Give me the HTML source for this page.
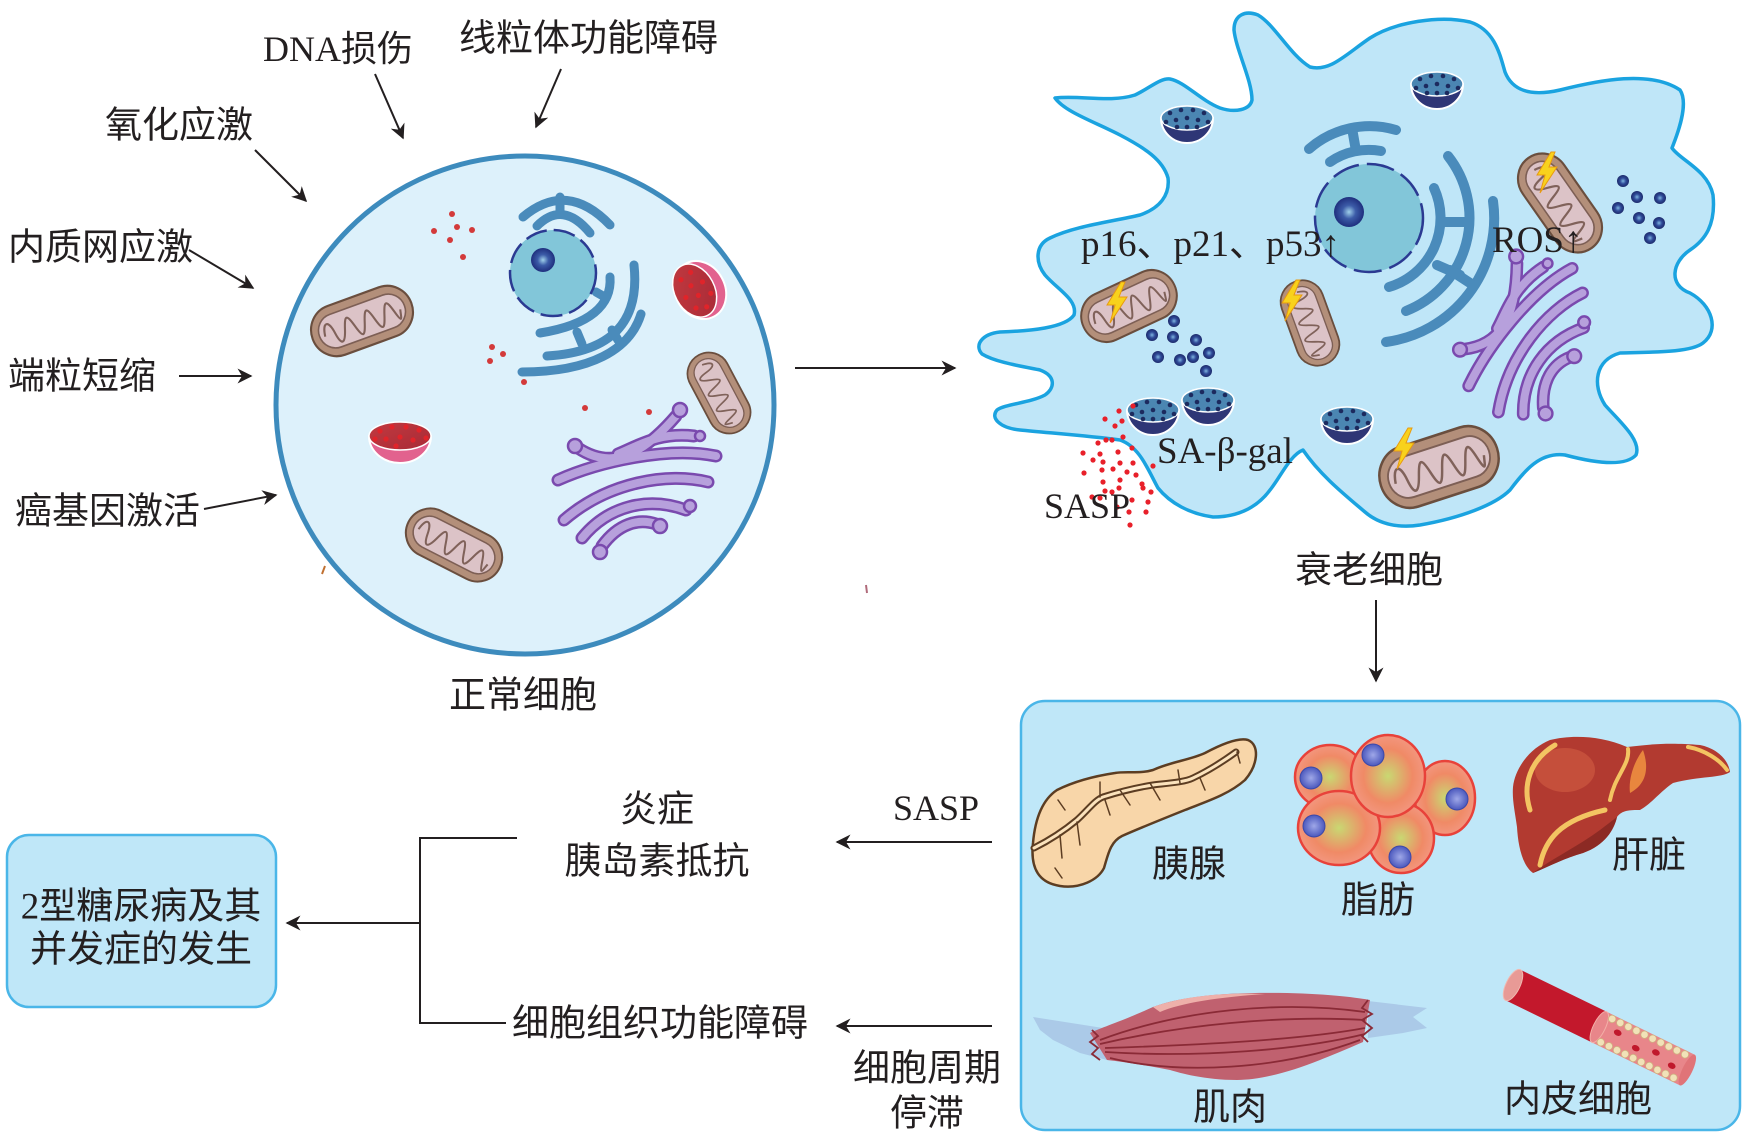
<!DOCTYPE html>
<html><head><meta charset="utf-8"><style>
html,body{margin:0;padding:0;background:#fff;}
svg{display:block;}
.cn{font-family:"Liberation Serif","Noto Sans CJK SC",sans-serif;font-size:37px;fill:#231f20;}
.lt{font-family:"Liberation Serif","Noto Sans CJK SC",serif;font-size:36px;fill:#231f20;}
</style></head><body>
<svg width="1751" height="1141" viewBox="0 0 1751 1141" xmlns="http://www.w3.org/2000/svg">
<defs>
<marker id="ah" viewBox="0 0 10 10" refX="9" refY="5" markerWidth="20" markerHeight="15" markerUnits="userSpaceOnUse" orient="auto">
<path d="M0,0 L10,5 L0,10 L3,5 Z" fill="#231f20"/></marker>
<radialGradient id="nuc" cx="0.5" cy="0.5" r="0.5"><stop offset="0" stop-color="#9fd0ea"/><stop offset="0.45" stop-color="#3c5ca8"/><stop offset="1" stop-color="#1f2f7e"/></radialGradient>
<radialGradient id="bd" cx="0.5" cy="0.5" r="0.5"><stop offset="0" stop-color="#7fb6e0"/><stop offset="0.5" stop-color="#2f4a98"/><stop offset="1" stop-color="#1d2b6c"/></radialGradient>
<radialGradient id="fat" cx="0.5" cy="0.5" r="0.55"><stop offset="0" stop-color="#c9d872"/><stop offset="0.6" stop-color="#f08a66"/><stop offset="1" stop-color="#f39a86"/></radialGradient>
<radialGradient id="fn" cx="0.5" cy="0.5" r="0.5"><stop offset="0" stop-color="#9fa8e8"/><stop offset="1" stop-color="#4b58bd"/></radialGradient>
<linearGradient id="rf" x1="0" y1="0" x2="1" y2="1"><stop offset="0" stop-color="#c23a40"/><stop offset="1" stop-color="#a82a36"/></linearGradient>
<g id="mito">
<rect x="-50" y="-24" width="100" height="48" rx="24" fill="#b38f7a" stroke="#6a4e3e" stroke-width="2"/>
<rect x="-43" y="-16" width="86" height="32" rx="16" fill="#dcc3c7" stroke="#7d5f55" stroke-width="1.5"/>
<path d="M-38,2 C-36,-12 -30,-12 -28,2 S-22,14 -18,2 S-12,-12 -8,2 S-2,14 2,2 S8,-12 12,2 S18,14 22,2 S28,-12 32,2 S36,10 38,2" fill="none" stroke="#80625a" stroke-width="2"/>
</g>
<g id="bolt"><path d="M5,-20 L-9,3 L-1,3 L-6,21 L11,-5 L3,-5 L9,-20 Z" fill="#f8d21c" stroke="#e89a10" stroke-width="1"/></g>
<g id="bowl">
<path d="M-26,0 A26,25 0 0 0 26,0 Z" fill="#2e3676" stroke="#fff" stroke-width="2"/>
<ellipse cx="0" cy="0" rx="26" ry="12" fill="#4b86b2" stroke="#fff" stroke-width="1.5"/>
<g fill="#1c2a5e"><circle cx="-17" cy="-5" r="2.3"/><circle cx="-6" cy="-8" r="2.3"/><circle cx="6" cy="-8" r="2.3"/><circle cx="17" cy="-5" r="2.3"/><circle cx="-11" cy="2" r="2.3"/><circle cx="0" cy="0" r="2.3"/><circle cx="11" cy="2" r="2.3"/><circle cx="-21" cy="4" r="2.3"/><circle cx="21" cy="4" r="2.3"/><circle cx="0" cy="9" r="2.3"/><circle cx="-10" cy="9" r="2.3"/><circle cx="10" cy="9" r="2.3"/></g>
</g>
<g id="rbowl">
<path d="M-31,0 A31,27 0 0 0 31,0 Z" fill="#e2628e" stroke="#fff" stroke-width="2"/>
<ellipse cx="0" cy="0" rx="31" ry="14" fill="url(#rf)" stroke="#fff" stroke-width="1.5"/>
<g fill="#e0242a"><circle cx="-20" cy="-5" r="2.6"/><circle cx="-8" cy="-9" r="2.6"/><circle cx="6" cy="-9" r="2.6"/><circle cx="19" cy="-6" r="2.6"/><circle cx="-14" cy="3" r="2.6"/><circle cx="0" cy="1" r="2.6"/><circle cx="13" cy="4" r="2.6"/><circle cx="-25" cy="3" r="2.6"/><circle cx="26" cy="2" r="2.6"/><circle cx="-4" cy="10" r="2.6"/></g>
</g>
<g id="gb" fill="none" stroke-linecap="round">
<path d="M-80,-2 C-40,-20 30,-36 78,-26"/>
<path d="M-60,-34 C-30,-14 0,-22 38,-66"/>
<path d="M-74,38 C-30,0 30,-10 70,0"/>
<path d="M-56,56 C-30,24 10,14 48,28"/>
<path d="M-36,64 C-20,42 0,36 18,42"/>
<path d="M-20,-28 C0,-36 20,-50 56,-46"/>
</g>
<g id="golgi">
<use href="#gb" stroke="#7a4aae" stroke-width="13"/>
<use href="#gb" stroke="#b7a0dc" stroke-width="8"/>
<g fill="#b7a0dc" stroke="#7a4aae" stroke-width="2.5">
<circle cx="-63" cy="-36" r="7"/><circle cx="42" cy="-72" r="7"/><circle cx="62" cy="-46" r="5"/><circle cx="-38" cy="70" r="7"/><circle cx="22" cy="44" r="7"/><circle cx="52" cy="24" r="6"/>
</g>
</g>
</defs>

<!-- LEFT LABELS -->
<text class="lt" x="263" y="61">DNA损伤</text>
<text class="cn" x="459" y="39" dominant-baseline="central">线粒体功能障碍</text>
<text class="cn" x="105" y="126" dominant-baseline="central">氧化应激</text>
<text class="cn" x="8" y="248" dominant-baseline="central">内质网应激</text>
<text class="cn" x="8" y="377" dominant-baseline="central">端粒短缩</text>
<text class="cn" x="15" y="512" dominant-baseline="central">癌基因激活</text>

<g stroke="#231f20" stroke-width="2" marker-end="url(#ah)">
<line x1="375" y1="74" x2="403" y2="138"/>
<line x1="561" y1="69" x2="536" y2="127"/>
<line x1="255" y1="150" x2="306" y2="201"/>
<line x1="189" y1="250" x2="253" y2="288"/>
<line x1="179" y1="376" x2="251" y2="376"/>
<line x1="204" y1="509" x2="276" y2="495"/>
<line x1="795" y1="368" x2="955" y2="368"/>
<line x1="1376" y1="600" x2="1376" y2="681"/>
<line x1="992" y1="842" x2="837" y2="842"/>
<line x1="992" y1="1026" x2="837" y2="1026"/>
<line x1="420" y1="923" x2="287" y2="923"/>
</g>

<!-- NORMAL CELL -->
<circle cx="525" cy="405" r="249" fill="#ddf1fb" stroke="#3d8bbd" stroke-width="5"/>
<g fill="#d33a3a">
<circle cx="452" cy="214" r="3"/><circle cx="434" cy="231" r="3"/><circle cx="457" cy="227" r="3"/><circle cx="472" cy="230" r="3"/><circle cx="450" cy="240" r="3"/><circle cx="463" cy="257" r="3"/>
<circle cx="492" cy="347" r="3"/><circle cx="503" cy="354" r="3"/><circle cx="490" cy="361" r="3"/><circle cx="524" cy="382" r="3"/><circle cx="585" cy="408" r="3"/><circle cx="649" cy="412" r="3"/>
</g>
<g fill="none" stroke="#4a8bbb" stroke-width="9" stroke-linecap="round">
<path d="M523,217 Q567,180 610,225"/>
<path d="M537,226 Q563,200 590,233"/>
<path d="M560,197 L560,212"/>
<path d="M610,277 C612,305 590,325 540,333"/>
<path d="M634,265 C640,322 612,352 547,356"/>
<path d="M641,314 C630,350 590,372 522,372"/>
<path d="M577,332 L582,344"/><path d="M612,330 L618,340"/><path d="M596,292 L603,296"/>
</g>
<circle cx="553" cy="273" r="43" fill="#82c6d9" stroke="#2b3a92" stroke-width="2.5" stroke-dasharray="22 7"/>
<circle cx="543" cy="260" r="12" fill="url(#nuc)"/>
<use href="#mito" transform="translate(362,321) rotate(-20) scale(1.05,1.08)"/>
<use href="#mito" transform="translate(719,393) rotate(62) scale(0.86,0.88)"/>
<use href="#mito" transform="translate(454,545) rotate(27) scale(1.02,1.02)"/>
<use href="#rbowl" transform="translate(400,436)"/>
<g transform="translate(700,290) rotate(-28)">
<ellipse cx="0" cy="0" rx="25" ry="30" fill="#e2628e" stroke="#fff" stroke-width="2"/>
<ellipse cx="-5" cy="-2" rx="20" ry="28" fill="url(#rf)" stroke="#fff" stroke-width="1.5"/>
<g fill="#e0242a"><circle cx="-12" cy="-18" r="2.6"/><circle cx="0" cy="-20" r="2.6"/><circle cx="-6" cy="-8" r="2.6"/><circle cx="6" cy="-6" r="2.6"/><circle cx="-16" cy="0" r="2.6"/><circle cx="-4" cy="4" r="2.6"/><circle cx="8" cy="8" r="2.6"/><circle cx="-12" cy="14" r="2.6"/><circle cx="-2" cy="18" r="2.6"/></g>
</g>
<use href="#golgi" transform="translate(638,482)"/>
<line x1="322" y1="574" x2="325" y2="566" stroke="#c07030" stroke-width="2"/>
<line x1="866" y1="585" x2="867" y2="593" stroke="#b06a7a" stroke-width="2"/>
<text class="cn" x="523" y="696" text-anchor="middle" dominant-baseline="central">正常细胞</text>

<!-- SENESCENT CELL -->
<path fill="#bfe6f8" stroke="#1aa3e0" stroke-width="3.5" stroke-linejoin="round" d="M1055,98 C1080,95 1110,103 1135,95 C1150,88 1160,78 1170,79 C1185,82 1200,100 1220,108 C1235,113 1250,110 1252,100 C1252,80 1236,50 1234,30 C1234,15 1245,10 1258,15 C1275,25 1290,55 1310,67 C1330,72 1345,55 1370,38 C1395,22 1440,15 1470,22 C1495,30 1500,55 1505,72 C1512,90 1530,97 1560,90 C1600,80 1650,70 1680,90 C1690,105 1675,140 1672,148 C1680,160 1708,170 1713,195 C1716,225 1705,240 1690,250 C1672,262 1668,285 1690,293 C1712,305 1720,330 1703,343 C1690,353 1650,352 1620,353 C1595,360 1592,385 1605,405 C1618,420 1642,440 1636,455 C1625,467 1595,463 1565,455 C1540,452 1525,470 1510,490 C1495,505 1460,518 1420,525 C1400,528 1380,525 1365,512 C1345,495 1320,475 1303,450 C1290,455 1280,478 1270,490 C1255,510 1235,517 1213,517 C1190,514 1170,503 1158,488 C1148,470 1140,447 1120,440 C1090,436 1050,433 1020,430 C1000,428 990,418 997,410 C1005,404 1030,403 1045,395 C1055,388 1056,376 1040,370 C1020,366 995,362 982,354 C974,345 982,334 1000,332 C1030,331 1065,328 1074,315 C1078,300 1058,290 1045,275 C1035,262 1035,245 1050,238 C1075,226 1110,222 1140,215 C1160,208 1170,195 1168,178 C1163,160 1145,148 1120,135 C1095,122 1065,112 1055,98 Z"/>

<g fill="none" stroke="#4a8bbb" stroke-width="10" stroke-linecap="round">
<path d="M1309,149 A92,92 0 0 1 1396,130"/>
<path d="M1330,162 A68,68 0 0 1 1381,151"/>
<path d="M1356,151 L1352,128"/>
<path d="M1434,188 A72,72 0 0 1 1389,287"/>
<path d="M1448,156 A100,100 0 0 1 1406,311"/>
<path d="M1493,201 A125,125 0 0 1 1386,342"/>
<path d="M1441,222 L1468,222"/><path d="M1437,265 L1460,275"/><path d="M1470,283 L1450,270"/>
</g>
<circle cx="1369" cy="218" r="54" fill="#82c6d9" stroke="#2b3a92" stroke-width="2.5" stroke-dasharray="28 8"/>
<circle cx="1349" cy="212" r="15" fill="url(#nuc)"/>

<use href="#bowl" transform="translate(1187,118)"/>
<use href="#bowl" transform="translate(1437,84)"/>
<use href="#bowl" transform="translate(1153,410)"/>
<use href="#bowl" transform="translate(1208,400)"/>
<use href="#bowl" transform="translate(1347,419)"/>

<g fill="url(#bd)">
<circle cx="1174" cy="321" r="6"/><circle cx="1152" cy="335" r="6"/><circle cx="1173" cy="337" r="6"/><circle cx="1196" cy="340" r="6"/><circle cx="1158" cy="357" r="6"/><circle cx="1180" cy="360" r="6"/><circle cx="1193" cy="357" r="6"/><circle cx="1209" cy="353" r="6"/><circle cx="1206" cy="371" r="6"/>
<circle cx="1623" cy="181" r="6"/><circle cx="1637" cy="197" r="6"/><circle cx="1660" cy="198" r="6"/><circle cx="1618" cy="208" r="6"/><circle cx="1639" cy="218" r="6"/><circle cx="1659" cy="223" r="6"/><circle cx="1650" cy="238" r="6"/>
</g>

<use href="#mito" transform="translate(1129,306) rotate(-25) scale(1.0,1.05)"/>
<use href="#mito" transform="translate(1310,323) rotate(70) scale(0.88,0.9)"/>
<use href="#mito" transform="translate(1560,203) rotate(55) scale(1.1,1.05)"/>
<use href="#mito" transform="translate(1439,467) rotate(-18) scale(1.22,1.3)"/>
<use href="#bolt" transform="translate(1116,302)"/>
<use href="#bolt" transform="translate(1291,300)"/>
<use href="#bolt" transform="translate(1546,172)"/>
<use href="#bolt" transform="translate(1403,448)"/>
<use href="#golgi" transform="translate(1530,337) rotate(-40) scale(0.98)"/>

<g fill="#e8202a">
<circle cx="1119" cy="411" r="2.6"/><circle cx="1133" cy="406" r="2.6"/><circle cx="1105" cy="419" r="2.6"/><circle cx="1122" cy="421" r="2.6"/><circle cx="1115" cy="426" r="2.6"/><circle cx="1098" cy="443" r="2.6"/><circle cx="1106" cy="440" r="2.6"/><circle cx="1112" cy="440" r="2.6"/><circle cx="1123" cy="437" r="2.6"/><circle cx="1132" cy="448" r="2.6"/><circle cx="1083" cy="453" r="2.6"/><circle cx="1100" cy="454" r="2.6"/><circle cx="1118" cy="452" r="2.6"/><circle cx="1093" cy="460" r="2.6"/><circle cx="1103" cy="462" r="2.6"/><circle cx="1120" cy="463" r="2.6"/><circle cx="1133" cy="463" r="2.6"/><circle cx="1153" cy="466" r="2.6"/><circle cx="1084" cy="473" r="2.6"/><circle cx="1102" cy="470" r="2.6"/><circle cx="1113" cy="469" r="2.6"/><circle cx="1127" cy="472" r="2.6"/><circle cx="1136" cy="475" r="2.6"/><circle cx="1103" cy="482" r="2.6"/><circle cx="1120" cy="480" r="2.6"/><circle cx="1142" cy="484" r="2.6"/><circle cx="1105" cy="491" r="2.6"/><circle cx="1112" cy="492" r="2.6"/><circle cx="1119" cy="488" r="2.6"/><circle cx="1143" cy="488" r="2.6"/><circle cx="1151" cy="492" r="2.6"/><circle cx="1092" cy="497" r="2.6"/><circle cx="1100" cy="498" r="2.6"/><circle cx="1132" cy="500" r="2.6"/><circle cx="1148" cy="502" r="2.6"/><circle cx="1117" cy="507" r="2.6"/><circle cx="1129" cy="512" r="2.6"/><circle cx="1146" cy="512" r="2.6"/><circle cx="1130" cy="525" r="2.6"/>
</g>

<text class="lt" x="1081" y="256" style="font-size:37px">p16、p21、p53↑</text>
<text class="lt" x="1492" y="252" style="font-size:37px">ROS↑</text>
<text class="lt" x="1157" y="463" style="font-size:37px">SA-β-gal</text>
<text class="lt" x="1044" y="518">SASP</text>
<text class="cn" x="1369" y="571" text-anchor="middle" dominant-baseline="central">衰老细胞</text>

<!-- TISSUE BOX -->
<rect x="1021" y="701" width="719" height="429" rx="24" fill="#bfe7f8" stroke="#4ab6e8" stroke-width="2.5"/>

<!-- pancreas -->
<path d="M1033,843 C1030,870 1040,883 1060,886 C1080,889 1098,880 1104,868 C1108,855 1110,842 1122,836 C1140,828 1165,818 1185,810 C1205,802 1228,795 1245,780 C1258,765 1260,745 1248,740 C1238,737 1220,745 1205,753 C1190,760 1170,762 1153,770 C1140,774 1125,771 1115,773 C1095,776 1075,781 1057,790 C1042,800 1035,820 1033,843 Z" fill="#f8d6a9" stroke="#5c3d22" stroke-width="2.5"/>
<g fill="none" stroke-linecap="round">
<path d="M1034,848 C1050,840 1065,830 1077,820 C1088,810 1095,800 1103,797 C1125,790 1140,787 1153,785 C1170,783 1185,782 1193,778 C1210,770 1225,760 1236,752" stroke="#5c3d22" stroke-width="7"/>
<path d="M1034,848 C1050,840 1065,830 1077,820 C1088,810 1095,800 1103,797 C1125,790 1140,787 1153,785 C1170,783 1185,782 1193,778 C1210,770 1225,760 1236,752" stroke="#fbe3bd" stroke-width="3"/>
<g stroke="#5c3d22" stroke-width="1.5">
<path d="M1100,797 L1100,782 M1105,800 L1110,815 M1077,822 L1080,845 M1060,835 L1062,858 M1180,783 L1178,770 M1200,778 L1205,790 M1058,800 L1065,810 M1055,868 L1062,878 M1120,790 L1130,805 M1150,783 L1160,800 M1237,752 L1240,763"/>
</g>
</g>
<text class="cn" x="1189" y="865" text-anchor="middle" dominant-baseline="central">胰腺</text>

<!-- fat cells -->
<g stroke="#e8423a" stroke-width="2.5" fill="url(#fat)">
<ellipse cx="1445" cy="798" rx="30" ry="37"/>
<ellipse cx="1330" cy="777" rx="35" ry="32"/>
<ellipse cx="1401" cy="838" rx="33" ry="35"/>
<ellipse cx="1339" cy="828" rx="41" ry="37"/>
<ellipse cx="1388" cy="776" rx="37" ry="41"/>
</g>
<g fill="url(#fn)" stroke="#3c48a8" stroke-width="1">
<circle cx="1311" cy="778" r="11"/><circle cx="1373" cy="755" r="11"/><circle cx="1457" cy="799" r="11"/><circle cx="1314" cy="826" r="11"/><circle cx="1400" cy="857" r="11"/>
</g>
<text class="cn" x="1378" y="901" text-anchor="middle" dominant-baseline="central">脂肪</text>

<!-- liver -->
<path d="M1513,787 C1515,768 1530,748 1550,740 C1570,735 1600,735 1627,747 C1645,745 1665,742 1700,745 C1715,748 1728,758 1730,772 C1722,778 1700,776 1673,783 C1662,790 1650,805 1640,810 C1630,810 1622,810 1617,817 C1614,830 1605,845 1583,853 C1565,858 1550,866 1533,873 C1522,865 1518,845 1517,827 C1515,812 1512,800 1513,787 Z" fill="#b23a30"/>
<path d="M1617,817 C1614,830 1605,845 1583,853 C1565,858 1550,866 1533,873 C1550,860 1580,845 1600,830 Z" fill="#8c2a24"/>
<ellipse cx="1565" cy="770" rx="30" ry="22" fill="#c9553e" opacity="0.8"/>
<g fill="none" stroke="#f3c462" stroke-linecap="round">
<path d="M1530,810 C1522,785 1530,760 1555,745" stroke-width="5"/>
<path d="M1540,865 C1545,840 1560,820 1605,810" stroke-width="5"/>
<path d="M1628,749 C1630,765 1615,775 1610,800" stroke-width="4"/>
<path d="M1688,747 C1705,750 1720,760 1727,770" stroke-width="4"/>
</g>
<path d="M1643,750 C1650,770 1645,785 1630,793 C1628,778 1635,760 1643,750 Z" fill="#e8863e"/>
<text class="cn" x="1649" y="856" text-anchor="middle" dominant-baseline="central">肝脏</text>

<!-- muscle -->
<path d="M1033,1017 L1103,1028 L1107,1060 L1080,1053 L1053,1040 L1040,1030 Z" fill="#a9c6e6" opacity="0.9"/>
<path d="M1368,1001 L1427,1008 L1413,1017 L1427,1028 L1403,1033 L1368,1038 Z" fill="#a9c6e6" opacity="0.9"/>
<path d="M1090,1033 C1100,1028 1120,1022 1153,1007 C1180,997 1220,992 1287,993 C1330,994 1360,998 1370,1000 L1363,1042 C1345,1050 1330,1056 1320,1060 C1290,1072 1260,1080 1237,1080 C1205,1080 1180,1073 1170,1070 C1150,1066 1125,1062 1107,1060 Z" fill="#c0616f"/>
<path d="M1153,1007 C1180,997 1220,992 1265,994 C1220,997 1180,1003 1160,1012 Z" fill="#eeb0aa"/>
<g fill="none" stroke="#8a2a36" stroke-width="1.8">
<path d="M1100,1040 C1180,1010 1280,1000 1365,1012"/>
<path d="M1100,1044 C1180,1025 1280,1015 1365,1020"/>
<path d="M1105,1048 C1200,1045 1300,1040 1365,1028"/>
<path d="M1105,1052 C1200,1058 1300,1050 1365,1034"/>
<path d="M1110,1058 C1180,1075 1280,1070 1360,1040"/>
<path d="M1092,1030 L1098,1036 L1090,1042 L1098,1048 L1092,1054 L1100,1060"/>
<path d="M1368,1000 L1362,1008 L1372,1014 L1362,1020 L1372,1028 L1362,1036 L1368,1042"/>
</g>
<text class="cn" x="1230" y="1108" text-anchor="middle" dominant-baseline="central">肌肉</text>

<!-- vessel -->
<g transform="translate(1513,985) rotate(26)">
<rect x="0" y="-17" width="96" height="34" fill="#c3182c"/>
<rect x="96" y="-17" width="98" height="34" fill="#e8868a"/>
<ellipse cx="96" cy="0" rx="6" ry="17" fill="#e8868a" stroke="#f3b0a8" stroke-width="1"/>
<ellipse cx="194" cy="0" rx="5" ry="17" fill="#e07478"/>
<ellipse cx="0" cy="0" rx="7" ry="17" fill="#e89a96" stroke="#f0b8b0" stroke-width="1"/>
<g fill="#f1e2b8" stroke="#d0b080" stroke-width="0.8">
<circle cx="104" cy="-13" r="3.7"/><circle cx="113" cy="-13" r="3.7"/><circle cx="122" cy="-13" r="3.7"/><circle cx="131" cy="-13" r="3.7"/><circle cx="140" cy="-13" r="3.7"/><circle cx="149" cy="-13" r="3.7"/><circle cx="158" cy="-13" r="3.7"/><circle cx="167" cy="-13" r="3.7"/><circle cx="176" cy="-13" r="3.7"/><circle cx="185" cy="-13" r="3.7"/>
<circle cx="104" cy="13" r="3.7"/><circle cx="113" cy="13" r="3.7"/><circle cx="122" cy="13" r="3.7"/><circle cx="131" cy="13" r="3.7"/><circle cx="140" cy="13" r="3.7"/><circle cx="149" cy="13" r="3.7"/><circle cx="158" cy="13" r="3.7"/><circle cx="167" cy="13" r="3.7"/><circle cx="176" cy="13" r="3.7"/><circle cx="185" cy="13" r="3.7"/>
</g>
<g fill="#c0192c"><ellipse cx="115" cy="-3" rx="4" ry="3"/><ellipse cx="138" cy="3" rx="4" ry="3"/><ellipse cx="158" cy="-2" rx="4" ry="3"/><ellipse cx="178" cy="3" rx="4" ry="3"/></g>
</g>
<text class="cn" x="1578" y="1100" text-anchor="middle" dominant-baseline="central">内皮细胞</text>

<!-- BOTTOM LEFT -->
<text class="lt" x="893" y="820">SASP</text>
<text class="cn" x="927" y="1069" text-anchor="middle" dominant-baseline="central">细胞周期</text>
<text class="cn" x="927" y="1114" text-anchor="middle" dominant-baseline="central">停滞</text>
<text class="cn" x="657" y="810" text-anchor="middle" dominant-baseline="central">炎症</text>
<text class="cn" x="657" y="862" text-anchor="middle" dominant-baseline="central">胰岛素抵抗</text>
<text class="cn" x="512" y="1024" dominant-baseline="central">细胞组织功能障碍</text>
<path d="M517,838 L420,838 L420,1023 L506,1023" fill="none" stroke="#231f20" stroke-width="2"/>
<rect x="7" y="835" width="269" height="172" rx="22" fill="#bfe7f8" stroke="#4ab6e8" stroke-width="2.5"/>
<text class="cn" x="141" y="907" text-anchor="middle" dominant-baseline="central">2型糖尿病及其</text>
<text class="cn" x="141" y="950" text-anchor="middle" dominant-baseline="central">并发症的发生</text>
</svg>
</body></html>
